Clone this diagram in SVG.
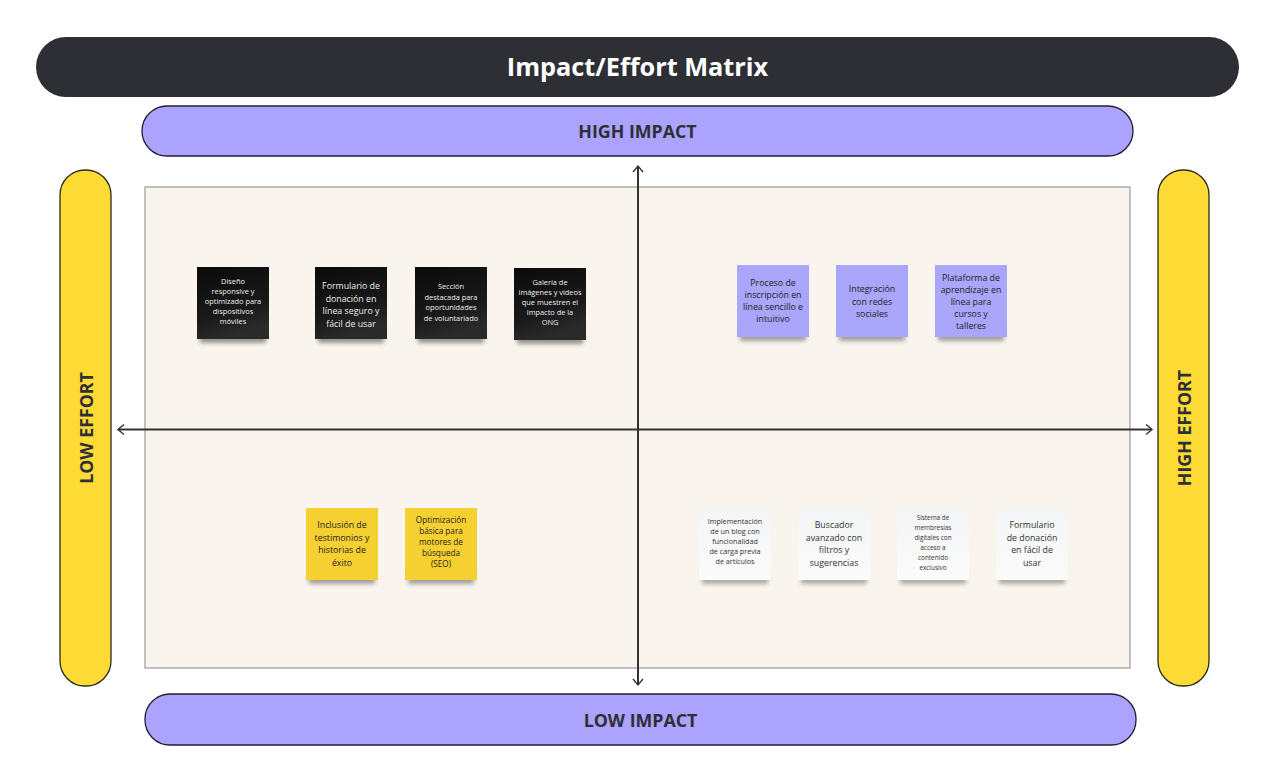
<svg xmlns="http://www.w3.org/2000/svg" width="1276" height="783" viewBox="0 0 1276 783">
<defs>
<style>
.t{font-family:"Open Sans","Liberation Sans",sans-serif;text-anchor:middle}
.hdr{font-family:"Open Sans","Liberation Sans",sans-serif;font-weight:700;text-anchor:middle;fill:#2e2f35;font-size:17.8px}
.imp{fill:#aba3fd;stroke:#1f1d33;stroke-width:1.3}
.eff{fill:#fddb34;stroke:#2b2a1a;stroke-width:1.3}
.ax{stroke:#333;stroke-width:2;fill:none}
.lt{fill:#eee;font-size:7.4px}
.lg{fill:#eee;font-size:8.8px}
.dk{fill:#222;font-size:8.8px}
.ds{fill:#333;font-size:7.2px}
</style>
<marker id="ah" viewBox="0 0 12 12" refX="10" refY="6" markerWidth="12" markerHeight="12" markerUnits="userSpaceOnUse" orient="auto-start-reverse">
<polyline points="4,1 10,6 4,11" fill="none" stroke="#333" stroke-width="1.4"/>
</marker>
<linearGradient id="gb" x1="0" y1="0" x2="0.3" y2="1">
<stop offset="0" stop-color="#0a0a0a"/><stop offset="0.7" stop-color="#1a1a1a"/><stop offset="1" stop-color="#2a2a2a"/>
</linearGradient>
<linearGradient id="gw" x1="0" y1="0" x2="0" y2="1">
<stop offset="0" stop-color="#f4f5f7"/><stop offset="1" stop-color="#fbfbfb"/>
</linearGradient>
<filter id="sh" x="-20%" y="-20%" width="140%" height="160%">
<feGaussianBlur stdDeviation="2"/>
</filter>
</defs>
<rect width="1276" height="783" fill="#ffffff"/>

<g id="title">
<rect x="36" y="37" width="1203" height="60" rx="30" fill="#2e2f35"/>
<text x="637.5" y="76" class="t" style="font-weight:700;font-size:25.3px;fill:#ffffff">Impact/Effort Matrix</text>
</g>

<g id="high-impact">
<rect x="142" y="106" width="991" height="50" rx="25" class="imp"/>
<text x="637.5" y="137.5" class="hdr">HIGH IMPACT</text>
</g>
<g id="low-impact">
<rect x="145" y="694" width="991" height="51" rx="25" class="imp"/>
<text x="640.5" y="726.5" class="hdr">LOW IMPACT</text>
</g>
<g id="low-effort">
<rect x="60" y="170" width="51" height="516" rx="25" class="eff"/>
<text transform="translate(93,428) rotate(-90)" class="hdr">LOW EFFORT</text>
</g>
<g id="high-effort">
<rect x="1158" y="170" width="51" height="516" rx="25" class="eff"/>
<text transform="translate(1191,428) rotate(-90)" class="hdr">HIGH EFFORT</text>
</g>

<g id="matrix">
<rect x="145" y="187" width="985" height="481" fill="#f9f5ee" stroke="#9a9a9a" stroke-width="1.2"/>
</g>

<g id="connectors">
<line x1="638" y1="166" x2="638" y2="685" class="ax" marker-start="url(#ah)" marker-end="url(#ah)"/>
<line x1="118" y1="429.5" x2="1152" y2="429.5" class="ax" marker-start="url(#ah)" marker-end="url(#ah)"/>
</g>

<g id="s1">
<rect x="200" y="331" width="66" height="12" fill="#000" opacity="0.4" filter="url(#sh)"/>
<rect x="197" y="267" width="72" height="72" fill="url(#gb)"/>
<text class="t lt"><tspan x="233" y="284">Diseño</tspan><tspan x="233" y="294">responsive y</tspan><tspan x="233" y="304">optimizado para</tspan><tspan x="233" y="314">dispositivos</tspan><tspan x="233" y="324">móviles</tspan></text>
</g>
<g id="s2">
<rect x="318" y="331" width="66" height="12" fill="#000" opacity="0.4" filter="url(#sh)"/>
<rect x="315" y="267" width="72" height="72" fill="url(#gb)"/>
<text class="t lg"><tspan x="351" y="289">Formulario de</tspan><tspan x="351" y="301.5">donación en</tspan><tspan x="351" y="314">línea seguro y</tspan><tspan x="351" y="326.5">fácil de usar</tspan></text>
</g>
<g id="s3">
<rect x="418" y="331" width="66" height="12" fill="#000" opacity="0.4" filter="url(#sh)"/>
<rect x="415" y="267" width="72" height="72" fill="url(#gb)"/>
<text class="t lt"><tspan x="451" y="289">Sección</tspan><tspan x="451" y="299.5">destacada para</tspan><tspan x="451" y="310">oportunidades</tspan><tspan x="451" y="320.5">de voluntariado</tspan></text>
</g>
<g id="s4">
<rect x="517" y="332" width="66" height="12" fill="#000" opacity="0.4" filter="url(#sh)"/>
<rect x="514" y="268" width="72" height="72" fill="url(#gb)"/>
<text class="t lt"><tspan x="550" y="285">Galería de</tspan><tspan x="550" y="295">imágenes y videos</tspan><tspan x="550" y="305">que muestren el</tspan><tspan x="550" y="315">impacto de la</tspan><tspan x="550" y="325">ONG</tspan></text>
</g>

<g id="s5">
<rect x="740" y="329" width="66" height="12" fill="#000" opacity="0.35" filter="url(#sh)"/>
<rect x="737" y="265" width="72" height="72" fill="#a9a6fb"/>
<text class="t dk"><tspan x="773" y="286">Proceso de</tspan><tspan x="773" y="298">inscripción en</tspan><tspan x="773" y="310">línea sencillo e</tspan><tspan x="773" y="322">intuitivo</tspan></text>
</g>
<g id="s6">
<rect x="839" y="329" width="66" height="12" fill="#000" opacity="0.35" filter="url(#sh)"/>
<rect x="836" y="265" width="72" height="72" fill="#a9a6fb"/>
<text class="t dk"><tspan x="872" y="292">Integración</tspan><tspan x="872" y="304.5">con redes</tspan><tspan x="872" y="317">sociales</tspan></text>
</g>
<g id="s7">
<rect x="938" y="329" width="66" height="12" fill="#000" opacity="0.35" filter="url(#sh)"/>
<rect x="935" y="265" width="72" height="72" fill="#a9a6fb"/>
<text class="t dk"><tspan x="971" y="281">Plataforma de</tspan><tspan x="971" y="293">aprendizaje en</tspan><tspan x="971" y="305">línea para</tspan><tspan x="971" y="317">cursos y</tspan><tspan x="971" y="329">talleres</tspan></text>
</g>

<g id="s8">
<rect x="309" y="572" width="66" height="12" fill="#000" opacity="0.35" filter="url(#sh)"/>
<rect x="306" y="508" width="72" height="72" fill="#f6d031"/>
<text class="t dk"><tspan x="342" y="528">Inclusión de</tspan><tspan x="342" y="540.5">testimonios y</tspan><tspan x="342" y="553">historias de</tspan><tspan x="342" y="565.5">éxito</tspan></text>
</g>
<g id="s9">
<rect x="408" y="572" width="66" height="12" fill="#000" opacity="0.35" filter="url(#sh)"/>
<rect x="405" y="508" width="72" height="72" fill="#f6d031"/>
<text class="t dk" style="font-size:8.2px"><tspan x="441" y="523">Optimización</tspan><tspan x="441" y="534">básica para</tspan><tspan x="441" y="545">motores de</tspan><tspan x="441" y="556">búsqueda</tspan><tspan x="441" y="567">(SEO)</tspan></text>
</g>

<g id="s10">
<rect x="702" y="572" width="66" height="12" fill="#000" opacity="0.3" filter="url(#sh)"/>
<rect x="699" y="508" width="72" height="72" fill="url(#gw)"/>
<text class="t ds"><tspan x="735" y="524">Implementación</tspan><tspan x="735" y="534">de un blog con</tspan><tspan x="735" y="544">funcionalidad</tspan><tspan x="735" y="554">de carga previa</tspan><tspan x="735" y="564">de artículos</tspan></text>
</g>
<g id="s11">
<rect x="801" y="572" width="66" height="12" fill="#000" opacity="0.3" filter="url(#sh)"/>
<rect x="798" y="508" width="72" height="72" fill="url(#gw)"/>
<text class="t dk" style="fill:#333"><tspan x="834" y="528">Buscador</tspan><tspan x="834" y="540.5">avanzado con</tspan><tspan x="834" y="553">filtros y</tspan><tspan x="834" y="565.5">sugerencias</tspan></text>
</g>
<g id="s12">
<rect x="900" y="572" width="66" height="12" fill="#000" opacity="0.3" filter="url(#sh)"/>
<rect x="897" y="508" width="72" height="72" fill="url(#gw)"/>
<text class="t ds" style="font-size:6.4px"><tspan x="933" y="520">Sistema de</tspan><tspan x="933" y="530">membresías</tspan><tspan x="933" y="540">digitales con</tspan><tspan x="933" y="550">acceso a</tspan><tspan x="933" y="560">contenido</tspan><tspan x="933" y="570">exclusivo</tspan></text>
</g>
<g id="s13">
<rect x="999" y="572" width="66" height="12" fill="#000" opacity="0.3" filter="url(#sh)"/>
<rect x="996" y="508" width="72" height="72" fill="url(#gw)"/>
<text class="t dk" style="fill:#333"><tspan x="1032" y="528">Formulario</tspan><tspan x="1032" y="540.5">de donación</tspan><tspan x="1032" y="553">en fácil de</tspan><tspan x="1032" y="565.5">usar</tspan></text>
</g>
</svg>
